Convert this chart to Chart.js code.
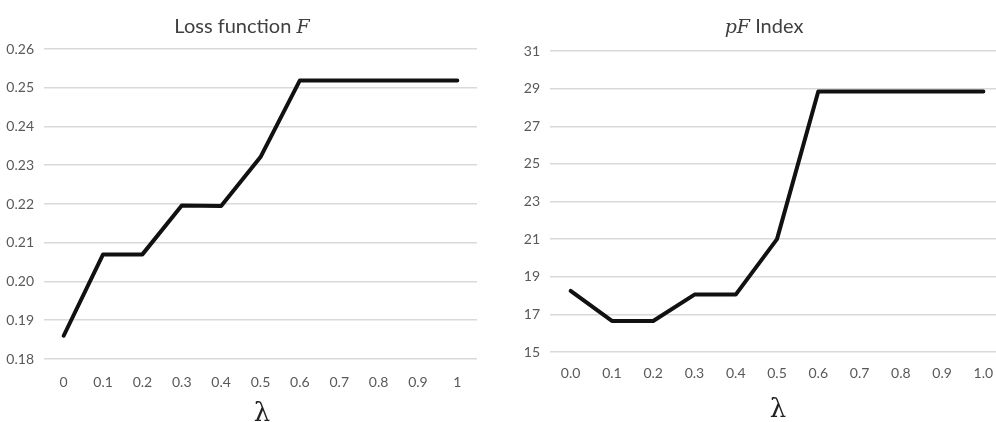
<!DOCTYPE html>
<html>
<head>
<meta charset="utf-8">
<script src="https://cdn.jsdelivr.net/npm/chart.js@4"></script>
<style>
  html, body { margin: 0; padding: 0; background: #fff; overflow: hidden; }
  body { width: 996px; height: 422px; position: relative; }
  .box { position: absolute; top: 0; height: 422px; }
  .title, .xlabel { position: absolute; white-space: nowrap; transform: translateX(-50%); color: #404040; }
  .title { font-family: Lato, 'Open Sans', sans-serif; font-size: 20px; top: 13px; }
  .title i { font-family: 'DejaVu Serif', 'Liberation Serif', serif; font-size: 19px; }
  .xlabel { font-family: 'DejaVu Serif', 'Liberation Serif', serif; font-size: 26px; color: #222; line-height: 1; }
</style>
</head>
<body>
<div class="box" style="left:0;width:496px"><canvas id="lossChart" width="496" height="422"></canvas></div>
<div class="box" style="left:496px;width:514px"><canvas id="pfChart" width="514" height="422"></canvas></div>
<div class="title" style="left:242px">Loss function <i>F</i></div>
<div class="title" style="left:764px"><i>pF</i> Index</div>
<div class="xlabel" style="left:262px;top:399px">λ</div>
<div class="xlabel" style="left:778px;top:395px">λ</div>
<script>
const lossLambda = ['0', '0.1', '0.2', '0.3', '0.4', '0.5', '0.6', '0.7', '0.8', '0.9', '1'];
const pfLambda = ['0.0', '0.1', '0.2', '0.3', '0.4', '0.5', '0.6', '0.7', '0.8', '0.9', '1.0'];
const lossValues = [0.186, 0.207, 0.207, 0.2196, 0.2195, 0.2321, 0.2519, 0.2519, 0.2519, 0.2519, 0.2519];
const pfValues = [18.25, 16.65, 16.65, 18.05, 18.05, 21.0, 28.85, 28.85, 28.85, 28.85, 28.85];

const tickFont = { family: "Lato, 'Open Sans', sans-serif", size: 14 };

function makeChart(id, labels, values, opts) {
  return new Chart(document.getElementById(id), {
    type: 'line',
    data: {
      labels: labels,
      datasets: [{
        data: values,
        borderColor: '#111',
        borderWidth: 4,
        pointRadius: 0,
        tension: 0,
        borderJoinStyle: 'round',
        borderCapStyle: 'round',
      }],
    },
    options: {
      responsive: false,
      animation: false,
      layout: { padding: { top: opts.top, left: 0, right: opts.right, bottom: 0 } },
      plugins: { legend: { display: false }, title: { display: false }, tooltip: { enabled: false } },
      scales: {
        x: {
          offset: true,
          grid: { display: false, drawTicks: false },
          border: { display: false },
          ticks: { color: '#595959', font: tickFont, padding: opts.xPad, maxRotation: 0, autoSkip: false },
          afterFit: (s) => { s.height = opts.xHeight; },
        },
        y: {
          min: opts.min,
          max: opts.max,
          grid: { color: '#d9d9d9', lineWidth: 1.5, drawTicks: false },
          border: { display: false },
          ticks: {
            stepSize: opts.step,
            color: '#595959',
            font: tickFont,
            padding: 10,
            callback: opts.fmt,
          },
          afterFit: (s) => { s.width = opts.yWidth; },
        },
      },
    },
  });
}

makeChart('lossChart', lossLambda, lossValues, {
  top: 49, right: 19, xHeight: 63, yWidth: 44, xPad: 15,
  min: 0.18, max: 0.26, step: 0.01, fmt: (v) => v.toFixed(2),
});

makeChart('pfChart', pfLambda, pfValues, {
  top: 51, right: 6, xHeight: 70, yWidth: 54, xPad: 13,
  min: 15, max: 31, step: 2, fmt: (v) => v,
});
</script>
</body>
</html>
